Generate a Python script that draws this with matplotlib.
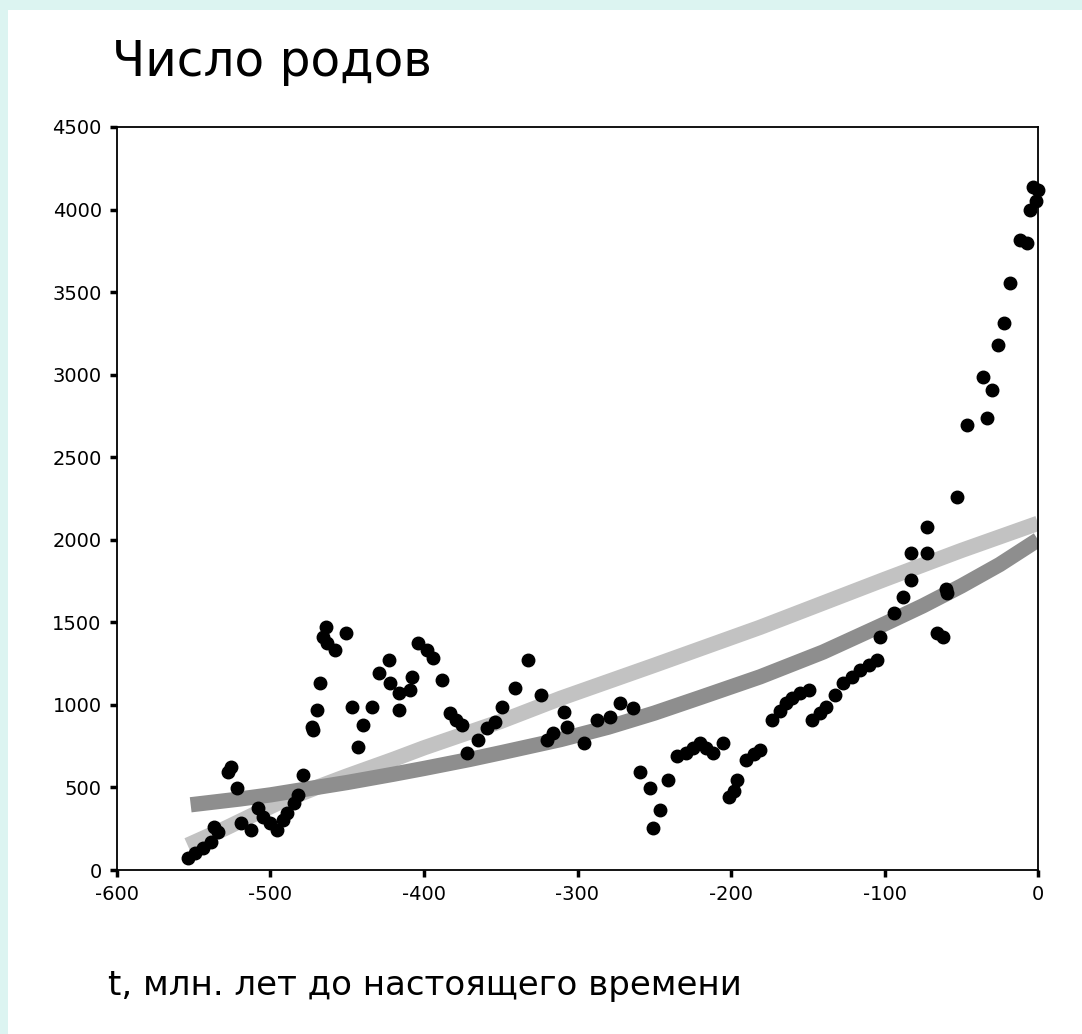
import numpy as np
import matplotlib
matplotlib.use("Agg")
import matplotlib.pyplot as plt

plt.rcParams['font.family'] = ['DejaVu Sans']
plt.rcParams['axes.unicode_minus'] = False

# genera counts (t in Myr before present)
t_points = [-554, -549, -544, -539, -537, -534, -528, -526, -522, -519,
            -513, -508, -505, -500, -496, -492, -489, -485, -482, -479,
            -473, -472, -470, -468, -466, -464, -463, -458, -451, -447,
            -443, -440, -434, -429, -423, -422, -416, -416, -409, -408,
            -404, -398, -394, -388, -383, -379, -375, -372, -365, -359,
            -354, -349, -341, -332, -324, -320, -316, -309, -307, -296,
            -287, -279, -272, -264, -259, -253, -251, -246, -241, -235,
            -229, -225, -220, -216, -212, -205, -201, -198, -196, -190,
            -185, -181, -173, -168, -164, -160, -155, -149, -147, -142,
            -138, -132, -127, -121, -116, -110, -105, -103, -94, -88,
            -83, -83, -72, -72, -66, -62, -60, -59, -53, -46,
            -36, -33, -30, -26, -22, -18, -12, -7, -5, -3,
            -1, 0]
n_genera = [73, 103, 133, 170, 260, 230, 594, 624, 497, 285,
            242, 375, 321, 285, 242, 303, 345, 406, 454, 575,
            866, 848, 969, 1133, 1411, 1472, 1375, 1333, 1435, 987,
            745, 878, 987, 1193, 1272, 1133, 1072, 969, 1090, 1169,
            1375, 1333, 1284, 1151, 951, 908, 878, 709, 787, 860,
            896, 987, 1102, 1272, 1060, 787, 830, 957, 866, 769,
            908, 927, 1011, 981, 594, 497, 254, 363, 545, 690,
            709, 740, 769, 740, 709, 769, 442, 480, 545, 666,
            700, 727, 908, 960, 1011, 1040, 1072, 1090, 908, 950,
            987, 1060, 1133, 1170, 1211, 1240, 1272, 1411, 1557, 1654,
            1757, 1920, 1920, 2078, 1435, 1411, 1700, 1678, 2259, 2695,
            2986, 2738, 2907, 3180, 3313, 3555, 3816, 3798, 3998, 4137,
            4050, 4120]

# two fitted trend curves (light and dark grey bands)
t_light = [-554, -530, -510, -494, -470, -450, -420, -400, -350, -311,
           -250, -181, -100, -50, 0]
n_light = [150, 250, 340, 410, 500, 570, 670, 740, 900, 1040,
           1240, 1470, 1760, 1935, 2100]
t_dark = [-552, -520, -500, -480, -450, -420, -400, -370, -350, -311,
          -280, -250, -220, -181, -140, -100, -75, -50, -25, 0]
n_dark = [395, 430, 455, 485, 530, 580, 615, 670, 710, 790,
          865, 950, 1045, 1170, 1320, 1490, 1600, 1720, 1850, 2000]

fig = plt.figure(figsize=(10.82, 10.34), dpi=100)
fig.patch.set_facecolor('white')
# light cyan strips on top and left
fig.patches.append(plt.Rectangle((0, 0), 8 / 1082, 1, transform=fig.transFigure,
                                 facecolor='#dcf4f1', edgecolor='none'))
fig.patches.append(plt.Rectangle((0, 1 - 10 / 1034), 1, 10 / 1034,
                                 transform=fig.transFigure,
                                 facecolor='#dcf4f1', edgecolor='none'))

ax = fig.add_axes([117 / 1082, 164 / 1034, 921 / 1082, 743 / 1034])
ax.plot(t_light, n_light, color='#c2c2c2', lw=11, solid_capstyle='butt',
        solid_joinstyle='round', zorder=2)
ax.plot(t_dark, n_dark, color='#8e8e8e', lw=11, solid_capstyle='butt',
        solid_joinstyle='round', zorder=2)
ax.plot(t_points, n_genera, 'o', color='black', ms=9, zorder=3, clip_on=False)

ax.set_xlim(-600, 0)
ax.set_ylim(0, 4500)
ax.set_xticks(range(-600, 1, 100))
ax.set_yticks(range(0, 4501, 500))
ax.tick_params(direction='out', length=5, width=2.5, labelsize=14, pad=6)
for s in ax.spines.values():
    s.set_linewidth(1.3)

fig.text(112 / 1082, 1 - 62 / 1034, 'Число родов', fontsize=35,
         ha='left', va='center')
fig.text(108 / 1082, 1 - 985 / 1034, 't, млн. лет до настоящего времени',
         fontsize=24.5, ha='left', va='center')

fig.savefig('out.png', dpi=100)
